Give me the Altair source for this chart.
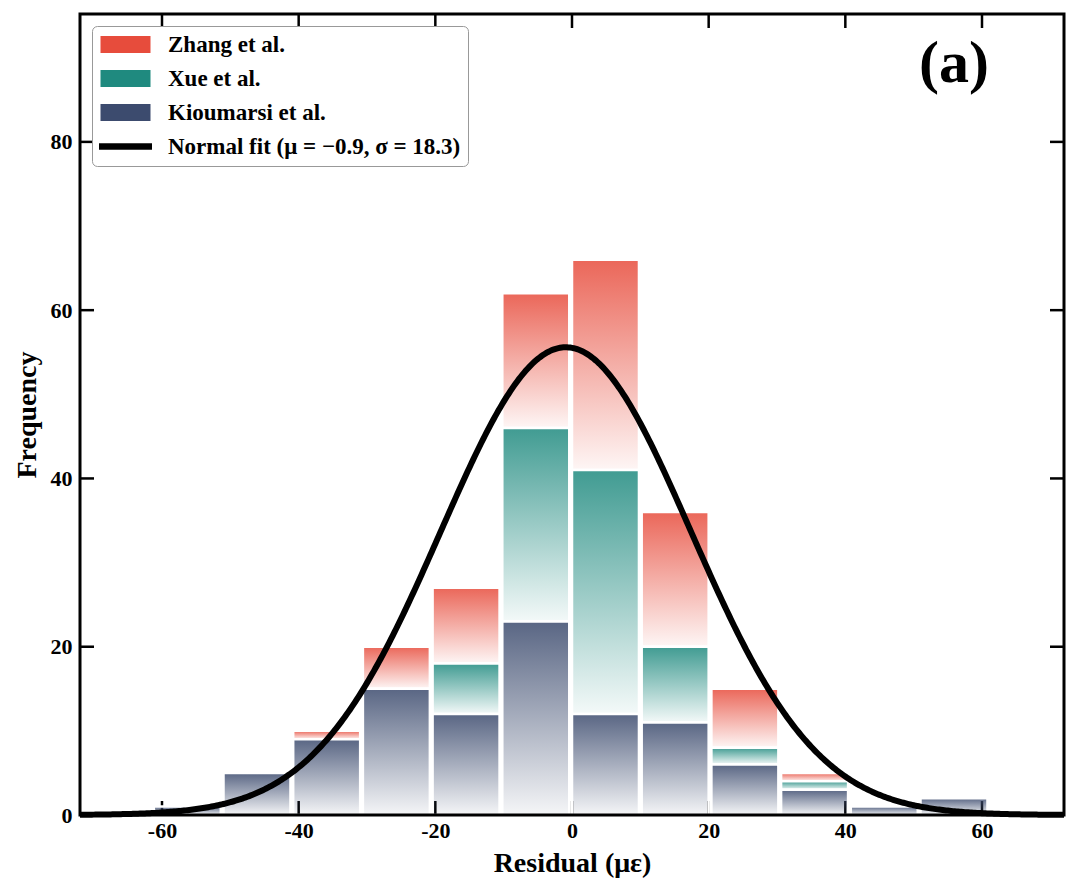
import altair as alt
import pandas as pd

# ---------------- data ----------------
bin_edges = [-61.4, -51.2, -41.0, -30.8, -20.6, -10.4, -0.2, 10.0, 20.2, 30.4, 40.6, 50.8, 61.0]
kioumarsi = [1, 5, 9, 15, 12, 23, 12, 11, 6, 3, 1, 2]
xue = [0, 0, 0, 0, 6, 23, 29, 9, 2, 1, 0, 0]
zhang = [0, 0, 1, 5, 9, 16, 25, 16, 7, 1, 0, 0]

series_names = ["Zhang et al.", "Xue et al.", "Kioumarsi et al."]
series_colors = ["#E74C3C", "#1F8A7F", "#3C4B6E"]
fit_label = "Normal fit (\u03bc = \u22120.9, \u03c3 = 18.3)"
fit_mu = -0.9
fit_sigma = 18.3

x_ticks = [-60, -40, -20, 0, 20, 40, 60]
y_ticks = [0, 20, 40, 60, 80]
x_domain = [-72, 72]
y_domain = [0, 95.2]

# ---------------- tables ----------------
rows = []
stack_order = [("Kioumarsi et al.", kioumarsi), ("Xue et al.", xue), ("Zhang et al.", zhang)]
for i in range(len(bin_edges) - 1):
    for k, (name, vals) in enumerate(stack_order):
        rows.append({"bin_lo": bin_edges[i], "bin_hi": bin_edges[i + 1],
                     "series": name, "count": vals[i], "order": k})
hist_df = pd.DataFrame(rows)

n_total = int(sum(kioumarsi) + sum(xue) + sum(zhang))
bin_width = bin_edges[1] - bin_edges[0]

W, H = 984, 801
FONT = "Liberation Serif"

xs = alt.Scale(domain=x_domain, nice=False, zero=False)
ys = alt.Scale(domain=y_domain, nice=False, zero=False)

xaxis = alt.Axis(values=x_ticks, title="Residual (\u03bc\u03b5)", ticks=False, domain=False,
                 grid=False, labelExpr="datum.value + ''", labelPadding=5, titlePadding=8,
                 labelFontSize=22, titleFontSize=28, labelFont=FONT, titleFont=FONT,
                 labelFontWeight="bold", titleFontWeight="bold", labelColor="black",
                 titleColor="black", labelFlush=False, labelOverlap=False)
yaxis = alt.Axis(values=y_ticks, title="Frequency", ticks=False, domain=False, grid=False,
                 labelPadding=8, titlePadding=9, labelFontSize=22, titleFontSize=28,
                 labelFont=FONT, titleFont=FONT, labelFontWeight="bold",
                 titleFontWeight="bold", labelColor="black", titleColor="black",
                 labelOverlap=False)


def hex_rgba(h, a):
    h = h.lstrip("#")
    r, g, b = int(h[0:2], 16), int(h[2:4], 16), int(h[4:6], 16)
    return f"rgba({r},{g},{b},{a})"


def gradient(color):
    return alt.LinearGradient(
        gradient="linear", x1=0, y1=0, x2=0, y2=1,
        stops=[alt.GradientStop(color=hex_rgba(color, 0.85), offset=0),
               alt.GradientStop(color=hex_rgba(color, 0.05), offset=1)])


# ---------------- tick layers (inward ticks on all four sides) ----------------
xt = pd.DataFrame({"v": x_ticks})
yt = pd.DataFrame({"v": y_ticks})
tick_len = 14
ticks_bottom = alt.Chart(xt).mark_rule(color="black", strokeWidth=2.5).encode(
    x=alt.X("v:Q", scale=xs, axis=xaxis), y=alt.value(H), y2=alt.value(H - tick_len))
ticks_top = alt.Chart(xt).mark_rule(color="black", strokeWidth=2.5).encode(
    x=alt.X("v:Q", scale=xs, axis=xaxis), y=alt.value(0), y2=alt.value(tick_len))
ticks_left = alt.Chart(yt).mark_rule(color="black", strokeWidth=2.5).encode(
    y=alt.Y("v:Q", scale=ys, axis=yaxis), x=alt.value(0), x2=alt.value(tick_len))
ticks_right = alt.Chart(yt).mark_rule(color="black", strokeWidth=2.5).encode(
    y=alt.Y("v:Q", scale=ys, axis=yaxis), x=alt.value(W - tick_len), x2=alt.value(W))

# ---------------- stacked gradient bars ----------------
base = alt.Chart(hist_df).transform_stack(
    stack="count", groupby=["bin_lo"], as_=["y0", "y1"],
    sort=[alt.SortField("order", order="ascending")]
).transform_filter("datum.count > 0").transform_calculate(
    xa="datum.bin_lo + 0.2", xb="datum.bin_hi - 0.2")

bar_layers = []
for name, col in zip(series_names, series_colors):
    layer = base.transform_filter(alt.datum.series == name).mark_rect(
        fill=gradient(col), stroke="white", strokeWidth=2.5
    ).encode(
        x=alt.X("xa:Q", scale=xs, axis=xaxis),
        x2="xb:Q",
        y=alt.Y("y0:Q", scale=ys, axis=yaxis),
        y2="y1:Q",
    )
    bar_layers.append(layer)

# ---------------- normal fit curve ----------------
curve = alt.Chart(alt.sequence(x_domain[0], x_domain[1] + 0.01, 0.25, as_="x")).transform_calculate(
    y=f"{n_total * bin_width} * densityNormal(datum.x, {fit_mu}, {fit_sigma})"
).mark_line(color="black", strokeWidth=6).encode(
    x=alt.X("x:Q", scale=xs, axis=xaxis),
    y=alt.Y("y:Q", scale=ys, axis=yaxis),
)

# ---------------- legend (via invisible points) ----------------
leg_names = series_names + [fit_label]
leg_colors = series_colors + ["black"]
rect_path = "M-2.5,-0.85H2.5V0.85H-2.5Z"
line_path = "M-2.65,-0.32H2.65V0.32H-2.65Z"
leg_shapes = [rect_path, rect_path, rect_path, line_path]
leg_df = pd.DataFrame({"series": leg_names})
legend = alt.Legend(title=None, orient="none", legendX=12, legendY=12, symbolSize=400,
                    symbolOffset=15, labelOffset=31, labelFont=FONT, labelFontSize=23,
                    labelFontWeight="bold", labelColor="black", rowPadding=10, padding=7,
                    fillColor="white", strokeColor="#999999", cornerRadius=5,
                    symbolOpacity=1, symbolStrokeWidth=0, labelLimit=600)
legend_layer = alt.Chart(leg_df).mark_point(filled=True, opacity=0).encode(
    color=alt.Color("series:N", scale=alt.Scale(domain=leg_names, range=leg_colors),
                    legend=legend, sort=leg_names),
    shape=alt.Shape("series:N", scale=alt.Scale(domain=leg_names, range=leg_shapes),
                    legend=legend, sort=leg_names),
)

# ---------------- panel label and frame ----------------
label = alt.Chart(pd.DataFrame({"t": ["(a)"]})).mark_text(
    font=FONT, fontSize=60, fontWeight="bold", align="center", baseline="alphabetic",
    color="black").encode(text="t:N", x=alt.value(874), y=alt.value(68))

frame = alt.Chart(pd.DataFrame({"a": [0]})).mark_rect(
    fillOpacity=0, stroke="black", strokeWidth=3).encode(
    x=alt.value(0), x2=alt.value(W), y=alt.value(0), y2=alt.value(H))

chart = alt.layer(
    ticks_bottom, ticks_top, ticks_left, ticks_right,
    *bar_layers, curve, legend_layer, label, frame
).properties(
    width=W, height=H,
    autosize=alt.AutoSizeParams(type="none"),
    padding={"left": 72, "top": 6, "right": 8, "bottom": 70},
    background="white",
).configure_view(stroke="transparent").configure(font=FONT)

chart.save("out.html", embed_options={"renderer": "svg", "actions": False})
